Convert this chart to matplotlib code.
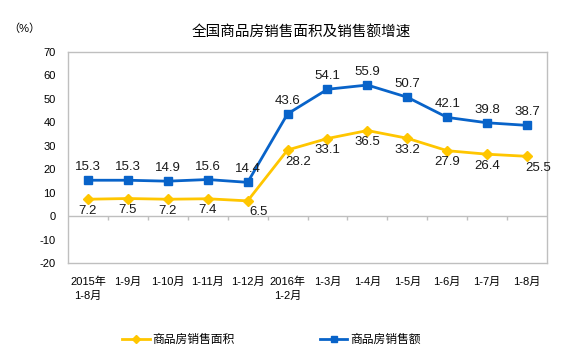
import matplotlib
matplotlib.use("Agg")
import matplotlib.pyplot as plt
from matplotlib.lines import Line2D

plt.rcParams['font.family'] = ['Liberation Sans', 'Noto Sans CJK SC', 'DejaVu Sans']

# 数据
categories = ['2015年\n1-8月', '1-9月', '1-10月', '1-11月', '1-12月', '2016年\n1-2月',
              '1-3月', '1-4月', '1-5月', '1-6月', '1-7月', '1-8月']
area = [7.2, 7.5, 7.2, 7.4, 6.5, 28.2, 33.1, 36.5, 33.2, 27.9, 26.4, 25.5]
amount = [15.3, 15.3, 14.9, 15.6, 14.4, 43.6, 54.1, 55.9, 50.7, 42.1, 39.8, 38.7]
yticks = [-20, -10, 0, 10, 20, 30, 40, 50, 60, 70]

yellow = '#FFC600'
blue = '#0863C9'

fig = plt.figure(figsize=(5.63, 3.59), dpi=100)
ax = fig.add_axes([0.1208, 0.2674, 0.8508, 0.5878])

x = list(range(len(categories)))
ax.plot(x, area, color=yellow, lw=2, marker='D', ms=5, mfc=yellow, mec=yellow)
ax.plot(x, amount, color=blue, lw=2, marker='s', ms=5.5, mfc=blue, mec=blue)

for i, v in enumerate(amount):
    ax.annotate(f'{v}', (i, v), xytext=(0, 5), textcoords='offset points',
                ha='center', va='bottom', fontsize=9.5, color='#1a1a1a')
for i, v in enumerate(area):
    dx = 0
    if i in (4, 5, 11):
        dx = 8
    ax.annotate(f'{v}', (i, v), xytext=(dx, -4), textcoords='offset points',
                ha='center', va='top', fontsize=9.5, color='#1a1a1a')

ax.set_xlim(-0.5, len(categories) - 0.5)
ax.set_ylim(-20, 70)
ax.set_yticks(yticks)
ax.set_yticklabels([str(t) for t in yticks], fontsize=8)
ax.tick_params(axis='y', length=0, pad=9)
ax.set_xticks(x)
ax.set_xticklabels(categories, fontsize=8, linespacing=1.5, va='top')
ax.tick_params(axis='x', length=0, pad=10)

# 零线及分隔刻度
ax.axhline(0, color='#BFBFBF', lw=1, zorder=0)
ax.vlines([i + 0.5 for i in x[:-1]], -1.8, 0, color='#BFBFBF', lw=1, zorder=0)

for s in ax.spines.values():
    s.set_color('#BFBFBF')
    s.set_linewidth(1)

fig.text(0.535, 0.91, '全国商品房销售面积及销售额增速', ha='center', va='center', fontsize=10.5)
fig.text(0.015, 0.92, '（%）', ha='left', va='center', fontsize=8)

handles = [Line2D([], [], color=yellow, lw=2, marker='D', ms=4),
           Line2D([], [], color=blue, lw=2, marker='s', ms=4.5)]
fig.legend(handles, ['商品房销售面积', '商品房销售额'], loc='center', bbox_to_anchor=(0.482, 0.052),
           ncol=2, frameon=False, fontsize=8.5, columnspacing=7.3, handlelength=2.3, handletextpad=0.2)

fig.savefig('out.png', dpi=100)
